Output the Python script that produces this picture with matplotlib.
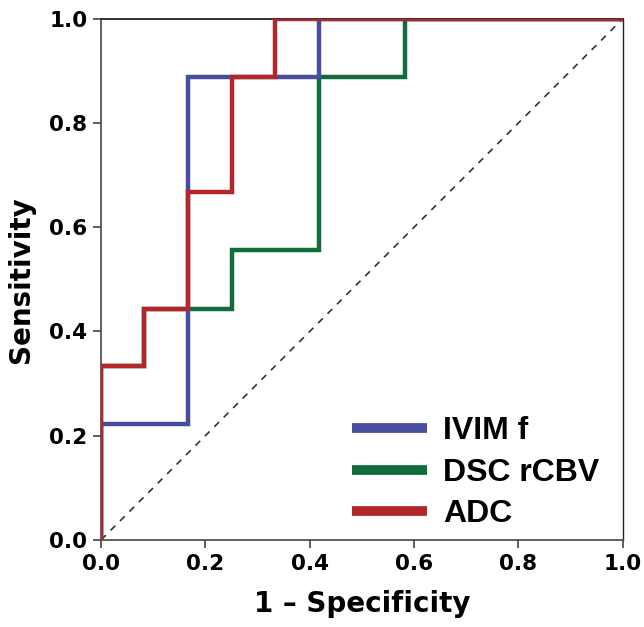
import matplotlib
matplotlib.use("Agg")
import matplotlib.pyplot as plt

# ROC step curves (1 - specificity, sensitivity)
ivim_x = [0, 0, 0.167, 0.167, 0.417, 0.417, 1.0]
ivim_y = [0, 0.222, 0.222, 0.889, 0.889, 1.0, 1.0]

dsc_x = [0, 0, 0.083, 0.083, 0.25, 0.25, 0.417, 0.417, 0.583, 0.583, 1.0]
dsc_y = [0, 0.333, 0.333, 0.444, 0.444, 0.556, 0.556, 0.889, 0.889, 1.0, 1.0]

adc_x = [0, 0, 0.083, 0.083, 0.167, 0.167, 0.25, 0.25, 0.333, 0.333, 1.0]
adc_y = [0, 0.333, 0.333, 0.444, 0.444, 0.667, 0.667, 0.889, 0.889, 1.0, 1.0]

labels = ["IVIM f", "DSC rCBV", "ADC"]
colors = ["#474ea0", "#116b3a", "#b3262a"]
ticks = [0.0, 0.2, 0.4, 0.6, 0.8, 1.0]

fig = plt.figure(figsize=(6.44, 6.27), dpi=100)
ax = fig.add_axes([0.157, 0.139, 0.81, 0.831])

ax.plot([0, 1], [0, 1], ls=(0, (4, 4)), color="#333333", lw=1.2, zorder=1)
h_dsc, = ax.plot(dsc_x, dsc_y, color=colors[1], lw=3.2, zorder=2, solid_joinstyle="miter")
h_ivim, = ax.plot(ivim_x, ivim_y, color=colors[0], lw=3.2, zorder=3, solid_joinstyle="miter")
h_adc, = ax.plot(adc_x, adc_y, color=colors[2], lw=3.2, zorder=4, solid_joinstyle="miter")

ax.set_xlim(0, 1)
ax.set_ylim(0, 1)
ax.set_xticks(ticks)
ax.set_yticks(ticks)
ax.set_xticklabels([f"{t:.1f}" for t in ticks], fontsize=15.5, fontweight="bold")
ax.set_yticklabels([f"{t:.1f}" for t in ticks], fontsize=15.5, fontweight="bold")
ax.tick_params(direction="out", length=6, width=1.2, color="#444444", pad=4)

for side in ["left", "bottom"]:
    ax.spines[side].set_color("#555555")
    ax.spines[side].set_linewidth(1.3)
ax.spines["top"].set_color("#222222")
ax.spines["top"].set_linewidth(1.3)
ax.spines["right"].set_color("#222222")
ax.spines["right"].set_linewidth(1.0)
for s in ax.spines.values():
    s.set_zorder(0)

ax.set_xlabel("1 \u2013 Specificity", fontsize=20, fontweight="bold", labelpad=12)
ax.set_ylabel("Sensitivity", fontsize=20, fontweight="bold", labelpad=10)

leg = ax.legend([h_ivim, h_dsc, h_adc], labels, loc="upper left",
                bbox_to_anchor=(0.45, 0.268), frameon=False,
                handlelength=2.35, handletextpad=0.5, labelspacing=0.36,
                borderpad=0,
                prop={"family": "Liberation Sans", "weight": "bold", "size": 23})
for line in leg.get_lines():
    line.set_linewidth(7)
    line.set_solid_capstyle("butt")

fig.savefig("out.png", dpi=100)
